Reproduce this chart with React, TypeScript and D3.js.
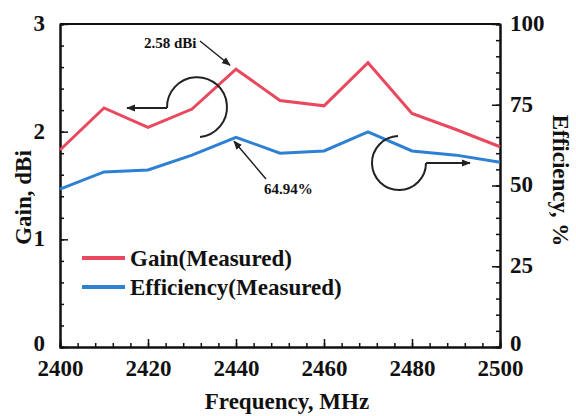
import React, { useRef, useEffect } from 'react';
import * as d3 from 'd3';

// chart data
const frequencies = [2400, 2410, 2420, 2430, 2440, 2450, 2460, 2470, 2480, 2490, 2500];
const gainMeasured = [1.83, 2.22, 2.04, 2.21, 2.58, 2.29, 2.24, 2.64, 2.17, 2.02, 1.86];
const efficiencyMeasured = [48.9, 54.2, 54.8, 59.4, 64.94, 60.0, 60.7, 66.6, 60.7, 59.4, 57.2];
const gainTicks = [0, 1, 2, 3];
const effTicks = [0, 25, 50, 75, 100];
const freqTicks = [2400, 2420, 2440, 2460, 2480, 2500];
const seriesNames = ['Gain(Measured)', 'Efficiency(Measured)'];

const RED = '#e9485e';
const BLUE = '#2d80d2';
const FONT = '"Liberation Serif", "Times New Roman", serif';

const App = () => {
  const svgRef = useRef<SVGSVGElement>(null);
  const width = 576;
  const height = 416;

  useEffect(() => {
    const svg = d3.select(svgRef.current);
    svg.selectAll('*').remove();

    const margin = { top: 24, right: 76, bottom: 69, left: 60 };
    const innerWidth = width - margin.left - margin.right;
    const innerHeight = height - margin.top - margin.bottom;

    const defs = svg.append('defs');
    defs.append('marker')
      .attr('id', 'arrowHead')
      .attr('viewBox', '0 0 10 10')
      .attr('refX', 9)
      .attr('refY', 5)
      .attr('markerWidth', 9)
      .attr('markerHeight', 9)
      .attr('markerUnits', 'userSpaceOnUse')
      .attr('orient', 'auto')
      .append('path')
      .attr('d', 'M0,1 L10,5 L0,9 Z')
      .attr('fill', '#222');

    const chart = svg.append('g')
      .attr('transform', `translate(${margin.left},${margin.top})`);

    const x = d3.scaleLinear().domain([2400, 2500]).range([0, innerWidth]);
    const yGain = d3.scaleLinear().domain([0, 3]).range([innerHeight, 0]);
    const yEff = d3.scaleLinear().domain([0, 100]).range([innerHeight, 0]);

    // Axes with inward ticks
    const styleAxis = (g) => {
      g.select('.domain').attr('stroke', '#111').attr('stroke-width', 2);
      g.selectAll('.tick line').attr('stroke', '#111').attr('stroke-width', 1.5);
      g.selectAll('.tick text')
        .attr('font-family', FONT)
        .attr('font-weight', 'bold')
        .attr('font-size', '23px')
        .attr('fill', '#111');
    };

    // minor ticks
    chart.append('g')
      .attr('transform', `translate(0,${innerHeight})`)
      .call(d3.axisBottom(x).tickValues(d3.range(2400, 2501, 4)).tickSize(-4).tickFormat(() => ''))
      .call(styleAxis);
    chart.append('g')
      .call(d3.axisLeft(yGain).tickValues(d3.range(0, 3.01, 0.2)).tickSize(-4).tickFormat(() => ''))
      .call(styleAxis);
    chart.append('g')
      .attr('transform', `translate(${innerWidth},0)`)
      .call(d3.axisRight(yEff).tickValues(d3.range(0, 101, 5)).tickSize(-4).tickFormat(() => ''))
      .call(styleAxis);

    // major ticks
    chart.append('g')
      .attr('transform', `translate(0,${innerHeight})`)
      .call(d3.axisBottom(x).tickValues(freqTicks).tickSizeInner(-8).tickSizeOuter(0).tickPadding(13).tickFormat(d3.format('d')))
      .call(styleAxis);
    // zero labels sit a bit higher so they clear the frequency labels
    const zeroDy = d => (d === 0 ? '0.15em' : '0.28em');
    chart.append('g')
      .call(d3.axisLeft(yGain).tickValues(gainTicks).tickSizeInner(-8).tickSizeOuter(0).tickPadding(15).tickFormat(d3.format('d')))
      .call(styleAxis)
      .selectAll('.tick text').attr('dy', zeroDy);
    chart.append('g')
      .attr('transform', `translate(${innerWidth},0)`)
      .call(d3.axisRight(yEff).tickValues(effTicks).tickSizeInner(-8).tickSizeOuter(0).tickPadding(10).tickFormat(d3.format('d')))
      .call(styleAxis)
      .selectAll('.tick text').attr('dy', zeroDy);

    // top frame line
    chart.append('line')
      .attr('x1', 0).attr('x2', innerWidth)
      .attr('y1', 0).attr('y2', 0)
      .attr('stroke', '#111').attr('stroke-width', 2);

    // lines
    const gainLine = d3.line<number>()
      .x((d, i) => x(frequencies[i]))
      .y(d => yGain(d));
    const effLine = d3.line<number>()
      .x((d, i) => x(frequencies[i]))
      .y(d => yEff(d));

    chart.append('path')
      .datum(gainMeasured)
      .attr('d', gainLine)
      .attr('fill', 'none')
      .attr('stroke', RED)
      .attr('stroke-width', 3);
    chart.append('path')
      .datum(efficiencyMeasured)
      .attr('d', effLine)
      .attr('fill', 'none')
      .attr('stroke', BLUE)
      .attr('stroke-width', 3);

    // annotations
    const peakGX = x(frequencies[4]);
    const peakGY = yGain(gainMeasured[4]);
    chart.append('text')
      .attr('x', peakGX - 92).attr('y', 24)
      .attr('font-family', FONT).attr('font-weight', 'bold').attr('font-size', '15px')
      .attr('fill', '#111')
      .text('2.58 dBi');
    chart.append('line')
      .attr('x1', peakGX - 36).attr('y1', 17)
      .attr('x2', peakGX - 6).attr('y2', peakGY - 4)
      .attr('stroke', '#222').attr('stroke-width', 1.5)
      .attr('marker-end', 'url(#arrowHead)');

    const peakEY = yEff(efficiencyMeasured[4]);
    chart.append('text')
      .attr('x', peakGX + 28).attr('y', 170)
      .attr('font-family', FONT).attr('font-weight', 'bold').attr('font-size', '15px')
      .attr('fill', '#111')
      .text('64.94%');
    chart.append('line')
      .attr('x1', peakGX + 30).attr('y1', 155)
      .attr('x2', peakGX - 2).attr('y2', peakEY + 4)
      .attr('stroke', '#222').attr('stroke-width', 1.5)
      .attr('marker-end', 'url(#arrowHead)');

    // curved arrow toward gain axis (left)
    const c1 = { cx: 137, cy: 84, r: 30 };
    chart.append('path')
      .attr('d', `M${c1.cx + 3},${c1.cy + 29} A${c1.r},${c1.r} 0 1 0 ${c1.cx - 30},${c1.cy}`)
      .attr('fill', 'none').attr('stroke', '#222').attr('stroke-width', 2);
    chart.append('line')
      .attr('x1', c1.cx - 30).attr('y1', c1.cy)
      .attr('x2', c1.cx - 70).attr('y2', c1.cy)
      .attr('stroke', '#222').attr('stroke-width', 2)
      .attr('marker-end', 'url(#arrowHead)');

    // curved arrow toward efficiency axis (right)
    const c2 = { cx: 340, cy: 139, r: 27 };
    chart.append('path')
      .attr('d', `M${c2.cx - 2},${c2.cy - 27} A${c2.r},${c2.r} 0 1 0 ${c2.cx + 26},${c2.cy}`)
      .attr('fill', 'none').attr('stroke', '#222').attr('stroke-width', 2);
    chart.append('line')
      .attr('x1', c2.cx + 26).attr('y1', c2.cy)
      .attr('x2', c2.cx + 70).attr('y2', c2.cy)
      .attr('stroke', '#222').attr('stroke-width', 2)
      .attr('marker-end', 'url(#arrowHead)');

    // legend
    const legend = chart.append('g').attr('transform', 'translate(22,234)');
    const colors = [RED, BLUE];
    seriesNames.forEach((name, i) => {
      legend.append('line')
        .attr('x1', 0).attr('x2', 43)
        .attr('y1', i * 29).attr('y2', i * 29)
        .attr('stroke', colors[i]).attr('stroke-width', 4);
      legend.append('text')
        .attr('x', 48).attr('y', i * 29 + 8)
        .attr('font-family', FONT).attr('font-weight', 'bold').attr('font-size', '23px')
        .attr('fill', '#111')
        .text(name);
    });

    // axis titles
    svg.append('text')
      .attr('x', margin.left + innerWidth / 2 + 7)
      .attr('y', height - 7)
      .attr('text-anchor', 'middle')
      .attr('font-family', FONT).attr('font-weight', 'bold').attr('font-size', '23px')
      .attr('fill', '#111')
      .text('Frequency, MHz');

    svg.append('text')
      .attr('transform', `translate(31,${margin.top + innerHeight / 2 + 12}) rotate(-90)`)
      .attr('text-anchor', 'middle')
      .attr('font-family', FONT).attr('font-weight', 'bold').attr('font-size', '23px')
      .attr('fill', '#111')
      .text('Gain, dBi');

    svg.append('text')
      .attr('transform', `translate(553,${margin.top + innerHeight / 2 - 5}) rotate(90)`)
      .attr('text-anchor', 'middle')
      .attr('font-family', FONT).attr('font-weight', 'bold').attr('font-size', '23px')
      .attr('fill', '#111')
      .text('Efficiency, %');
  }, []);

  return (
    <svg
      ref={svgRef}
      width={width}
      height={height}
      style={{ position: 'absolute', left: 0, top: 0, background: '#fff' }}
    />
  );
};

export default App;
